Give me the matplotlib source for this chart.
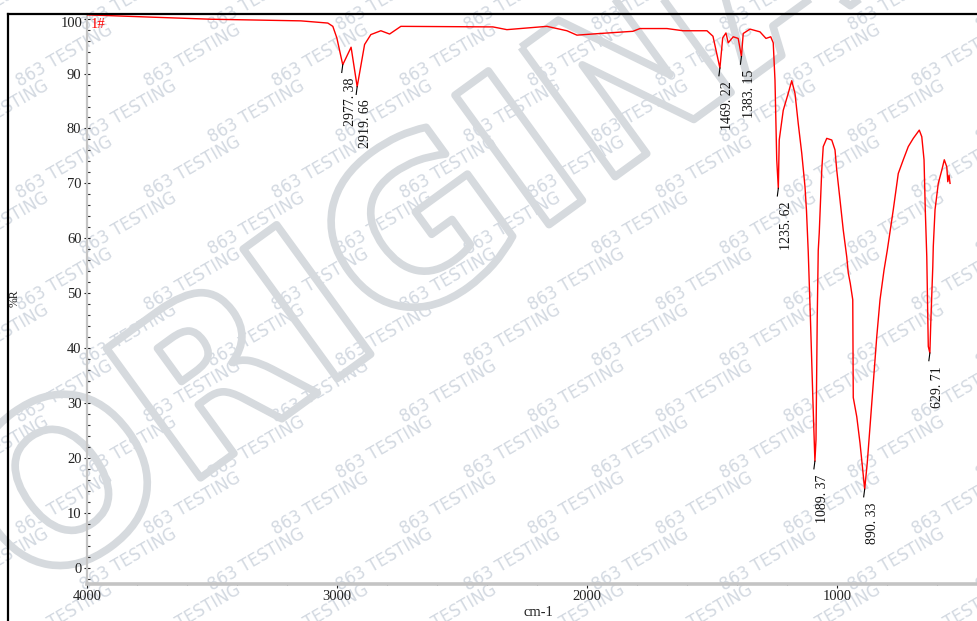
import matplotlib
matplotlib.use("Agg")
import matplotlib.pyplot as plt
import matplotlib.patheffects as pe
from matplotlib.lines import Line2D
from matplotlib.ticker import MultipleLocator

# ---------------- data ----------------
wavenumber = [4000, 3757, 3505, 3145, 3037, 3017, 3001, 2977.38, 2944, 2919.66,
              2890, 2865, 2825, 2790, 2745, 2377, 2321, 2161, 2081, 2041,
              1949, 1817, 1789, 1681, 1617, 1521, 1497, 1469.22, 1458, 1445,
              1436, 1416, 1396, 1383.15, 1376, 1349, 1309, 1285, 1266, 1256,
              1249, 1242, 1235.62, 1232, 1216, 1196, 1182, 1169, 1156, 1142,
              1129, 1123, 1116, 1107, 1097, 1089.37, 1085, 1080, 1076, 1072,
              1062, 1056, 1042, 1022, 1009, 1002, 989, 976, 962, 956,
              948, 938, 936, 922, 909, 890.33, 880, 869, 856, 842,
              829, 813, 800, 776, 756, 736, 716, 696, 672, 662,
              653, 648, 642, 636, 629.71, 626, 618, 616, 609, 596,
              582, 572, 562, 558, 553, 549]
transmittance = [100.7, 100.3, 99.9, 99.6, 99.2, 98.6, 96.5, 91.6, 94.8, 87.6,
                 95.3, 97.1, 97.8, 97.2, 98.6, 98.5, 98.0, 98.6, 97.8, 97.0,
                 97.3, 97.7, 98.2, 98.2, 97.8, 97.8, 96.8, 91.0, 96.5, 97.4,
                 95.6, 96.7, 96.4, 93.1, 97.3, 98.1, 97.6, 96.4, 96.7, 95.6,
                 88.8, 74.3, 69.1, 77.9, 83.3, 86.4, 88.7, 86.4, 80.9, 75.5,
                 69.4, 65.0, 57.5, 45.0, 30.0, 19.4, 23.3, 45.7, 57.8, 61.0,
                 72.4, 76.7, 78.2, 77.9, 76.1, 72.4, 67.0, 61.5, 56.6, 53.7,
                 51.8, 48.8, 31.0, 27.5, 22.7, 14.3, 19.1, 25.7, 33.6, 42.1,
                 48.8, 54.2, 57.8, 65.2, 71.8, 74.3, 76.7, 78.2, 79.7, 78.5,
                 74.3, 65.2, 56.6, 40.3, 39.1, 44.6, 54.8, 58.5, 65.2, 70.0,
                 72.4, 74.3, 73.0, 70.3, 71.5, 70.0]

peak_wn = [2977.38, 2919.66, 1469.22, 1383.15, 1235.62, 1089.37, 890.33, 629.71]
peak_T = [91.6, 87.6, 91.0, 93.1, 69.1, 19.4, 14.3, 39.1]
peak_labels = ["2977. 38", "2919. 66", "1469. 22", "1383. 15",
               "1235. 62", "1089. 37", "890. 33", "629. 71"]

x_ticks = [4000, 3000, 2000, 1000]
x_ticklabels = ["4000", "3000", "2000", "1000"]
y_ticks = [0, 10, 20, 30, 40, 50, 60, 70, 80, 90, 100]
y_ticklabels = ["0", "10", "20", "30", "40", "50", "60", "70", "80", "90", ""]

sample_name = "1#"
x_title = "cm-1"
y_title = "%R"
watermark_small = "863 TESTING"
watermark_big = "ORIGINAL"

# ---------------- figure ----------------
W, H = 977, 621
fig = plt.figure(figsize=(W / 100, H / 100), dpi=100)
fig.patch.set_facecolor("white")
serif = ["Liberation Serif", "DejaVu Serif"]

def px(x, y):
    return x / W, 1 - y / H

# watermark: repeated small text (below everything)
wm_color = "#d3d9e1"
for j in range(-2, 13):
    for i in range(-2, 10):
        cx = i * 128 + (j % 2) * 64
        cy = j * 56
        fx, fy = px(cx, cy)
        fig.text(fx, fy, watermark_small, rotation=30, fontsize=12,
                 color=wm_color, ha="center", va="center",
                 family="DejaVu Sans", zorder=-2)

# watermark: big outlined word
bx, by = px(480, 200)
fig.text(bx, by, watermark_big, rotation=36, fontsize=158, fontweight="bold",
         color="none", ha="center", va="center", family="DejaVu Sans",
         path_effects=[pe.Stroke(linewidth=5.5, foreground="#d6dade")],
         zorder=-1)

# axes (right edge runs off the image)
left, bottom = px(87, 584)
_, top = px(0, 14)
ax = fig.add_axes([left, bottom, 1 - left, top - bottom])
ax.patch.set_alpha(0)

x_right = 4000 - (977 - 87.3) * 4
ax.set_xlim(4000, x_right)
ax.set_ylim(-2.97, 100.85)

ax.plot(wavenumber, transmittance, color="#ff0000", lw=1.0, zorder=3)

for wn, t, lab in zip(peak_wn, peak_T, peak_labels):
    ax.plot([wn, wn + 4], [t, t - 1.4], color="black", lw=0.8, zorder=4)
    ax.annotate(lab, xy=(wn, t), xytext=(8, -13), textcoords="offset pixels",
                rotation=90, ha="center", va="top", fontsize=10,
                family=serif, color="#111111", zorder=5)

# spines
for s in ("top", "right"):
    ax.spines[s].set_visible(False)
ax.spines["left"].set_color("#c4c4c4")
ax.spines["left"].set_linewidth(1.6)
ax.spines["bottom"].set_color("#c4c4c4")
ax.spines["bottom"].set_linewidth(2.6)

ax.set_xticks(x_ticks)
ax.set_xticklabels(x_ticklabels, family=serif, fontsize=10.5)
ax.xaxis.set_minor_locator(MultipleLocator(200))
ax.set_yticks(y_ticks)
ax.set_yticklabels(y_ticklabels, family=serif, fontsize=10.5)
ax.yaxis.set_minor_locator(MultipleLocator(2))
ax.tick_params(axis="x", which="major", direction="out", length=3, width=0.8,
               pad=1, colors="#222222")
ax.tick_params(axis="x", which="minor", direction="inout", length=2, width=0.8,
               color="#333333")
ax.tick_params(axis="y", which="major", direction="inout", length=4, width=0.8,
               pad=2, colors="#222222")
ax.tick_params(axis="y", which="minor", direction="in", length=2, width=0.8,
               color="#333333")

# top label "100" drawn slightly lower, as in the original
ax.annotate("100", xy=(0, 100), xycoords=("axes fraction", "data"),
            xytext=(-4, -5), textcoords="offset pixels", ha="right",
            va="center", fontsize=10.5, family=serif, color="#222222")

# sample name
sx, sy = px(91, 25)
fig.text(sx, sy, sample_name, color="#ff0000", fontsize=10.5, family=serif,
         ha="left", va="center")

# axis titles
tx, ty = px(538, 612)
fig.text(tx, ty, x_title, fontsize=10.5, family=serif, ha="center",
         va="center", color="#222222")
yx, yy = px(15, 298)
fig.text(yx, yy, y_title, fontsize=8.5, family=serif, rotation=90,
         ha="center", va="center", color="#222222")

# outer black frame (partially visible)
fx0, fy0 = px(8, 13.5)
fig.add_artist(Line2D([fx0, 1.0], [fy0, fy0], transform=fig.transFigure,
                      color="black", lw=1.6))
fig.add_artist(Line2D([fx0, fx0], [fy0, 0.0], transform=fig.transFigure,
                      color="black", lw=1.6))

fig.savefig("out.png", dpi=100)
